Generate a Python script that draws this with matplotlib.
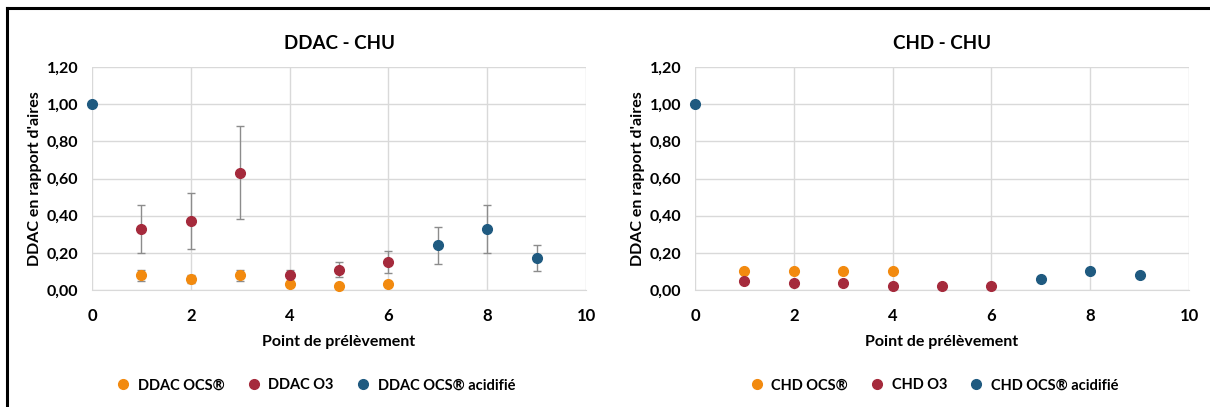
import numpy as np
import matplotlib.pyplot as plt
from matplotlib.lines import Line2D

# données
x_ocs = [1, 2, 3, 4, 5, 6]
x_o3 = [1, 2, 3, 4, 5, 6]
x_acid = [0, 7, 8, 9]

ddac_ocs = [0.08, 0.06, 0.08, 0.03, 0.02, 0.03]
ddac_ocs_err = [0.03, 0.02, 0.03, 0.01, 0.01, 0.01]
ddac_o3 = [0.33, 0.37, 0.63, 0.08, 0.11, 0.15]
ddac_o3_err = [0.13, 0.15, 0.25, 0.03, 0.04, 0.06]
ddac_acid = [1.00, 0.24, 0.33, 0.17]
ddac_acid_err = [0.0, 0.10, 0.13, 0.07]

chd_ocs = [0.10, 0.10, 0.10, 0.10]
chd_ocs_x = [1, 2, 3, 4]
chd_o3 = [0.05, 0.04, 0.04, 0.02, 0.02, 0.02]
chd_acid = [1.00, 0.06, 0.10, 0.08]
chd_err = 0.01

orange = '#F28A0F'
rouge = '#A52A3C'
bleu = '#1F5A80'
gris = '#D9D9D9'

plt.rcParams['font.family'] = ['Lato', 'DejaVu Sans']

fig = plt.figure(figsize=(12.1, 4.07), dpi=100)

# cadre noir autour de la figure
fig.add_artist(Line2D([6.5 / 1210, 6.5 / 1210], [0, 1 - 7.5 / 407], color='black', lw=2.2))
fig.add_artist(Line2D([6.5 / 1210, 1], [1 - 7.5 / 407, 1 - 7.5 / 407], color='black', lw=2.2))


def style_axes(ax, title):
    ax.set_xlim(0, 10)
    ax.set_ylim(0, 1.2)
    ax.set_xticks(np.arange(0, 11, 2))
    ax.set_yticks(np.arange(0, 1.21, 0.2))
    ax.set_yticklabels([f'{v:.2f}'.replace('.', ',') for v in np.arange(0, 1.21, 0.2)])
    ax.grid(True, color=gris, lw=1)
    ax.set_axisbelow(True)
    for s in ['top', 'right', 'left']:
        ax.spines[s].set_visible(False)
    ax.spines['bottom'].set_color(gris)
    ax.tick_params(axis='x', length=0, labelsize=12, pad=13, colors='black')
    ax.tick_params(axis='y', length=0, labelsize=11.5, pad=10, colors='black')
    for lab in ax.get_xticklabels() + ax.get_yticklabels():
        lab.set_fontweight('bold')
    ax.set_xlabel('Point de prélèvement', fontsize=11.5, fontweight='bold', labelpad=8)
    ax.set_ylabel("DDAC en rapport d'aires", fontsize=11.5, fontweight='bold', labelpad=3)
    ax.set_title(title, fontsize=13.5, fontweight='bold', pad=13)
    for s in ax.spines.values():
        s.set_clip_on(False)


ekw = dict(fmt='o', ms=7, ecolor='#8C8C8C', elinewidth=1, capsize=3, capthick=1, clip_on=False, zorder=3)

# DDAC
ax1 = fig.add_axes([92 / 1210, 1 - 290 / 407, (586 - 92) / 1210, (290 - 67) / 407])
ax1.errorbar(x_ocs, ddac_ocs, yerr=ddac_ocs_err, color=orange, label='DDAC OCS®', **ekw)
ax1.errorbar(x_o3, ddac_o3, yerr=ddac_o3_err, color=rouge, label='DDAC O3', **ekw)
ax1.errorbar(x_acid, ddac_acid, yerr=ddac_acid_err, color=bleu, label='DDAC OCS® acidifié', **ekw)
style_axes(ax1, 'DDAC - CHU')

# CHD
ax2 = fig.add_axes([695 / 1210, 1 - 290 / 407, (1189 - 695) / 1210, (290 - 67) / 407])
ax2.errorbar(chd_ocs_x, chd_ocs, yerr=chd_err, color=orange, label='CHD OCS®', **ekw)
ax2.errorbar(x_o3, chd_o3, yerr=0.005, color=rouge, label='CHD O3', **ekw)
ax2.errorbar(x_acid, chd_acid, yerr=chd_err, color=bleu, label='CHD OCS® acidifié', **ekw)
style_axes(ax2, 'CHD - CHU')

for ax, xc in ((ax1, 0.445), (ax2, 0.476)):
    handles, labels = ax.get_legend_handles_labels()
    handles = [Line2D([], [], marker='o', ls='', ms=7, color=h[0].get_color()) for h in handles]
    ax.legend(handles, labels, loc='upper center', bbox_to_anchor=(xc, -0.337), ncol=3,
              frameon=False, handletextpad=0.0, columnspacing=1.0,
              prop={'size': 10.5, 'weight': 'bold'})

fig.savefig('out.png', dpi=100)
